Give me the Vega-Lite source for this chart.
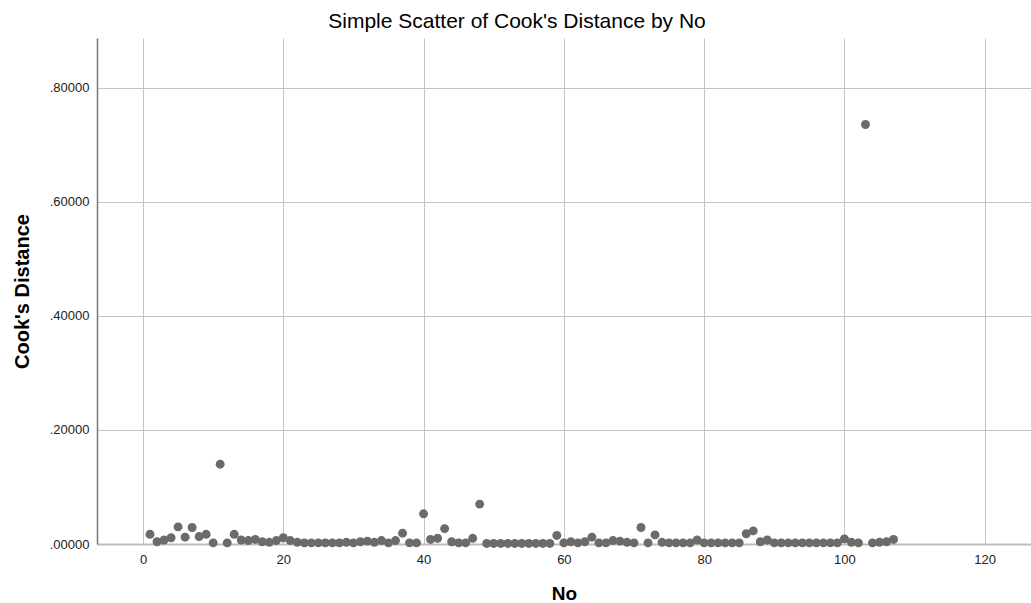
{
  "$schema": "https://vega.github.io/schema/vega-lite/v6.json",
  "autosize": {"type": "none"},
  "padding": {"left": 97, "top": 38, "right": 0, "bottom": 59},
  "width": 934,
  "height": 506,
  "background": "white",
  "title": {
    "text": "Simple Scatter of Cook's Distance by No",
    "font": "Liberation Sans",
    "fontSize": 21,
    "fontWeight": "normal",
    "color": "#000000",
    "anchor": "middle",
    "dx": -47,
    "dy": 21,
    "baseline": "alphabetic",
    "offset": 10
  },
  "config": {
    "view": {"stroke": null},
    "axis": {
      "labelFont": "Liberation Sans",
      "labelFontSize": 13,
      "labelColor": "#222222",
      "titleFont": "Liberation Sans",
      "titleFontSize": 20,
      "titleFontWeight": "bold",
      "titleColor": "#000000",
      "gridColor": "#c4c4c4",
      "gridWidth": 1,
      "gridOpacity": 1,
      "ticks": false,
      "tickSize": 0
    }
  },
  "data": {
    "values": [
      {"No": 1, "CooksDistance": 0.017},
      {"No": 2, "CooksDistance": 0.004},
      {"No": 3, "CooksDistance": 0.007},
      {"No": 4, "CooksDistance": 0.011},
      {"No": 5, "CooksDistance": 0.030},
      {"No": 6, "CooksDistance": 0.012},
      {"No": 7, "CooksDistance": 0.029},
      {"No": 8, "CooksDistance": 0.013},
      {"No": 9, "CooksDistance": 0.017},
      {"No": 10, "CooksDistance": 0.002},
      {"No": 11, "CooksDistance": 0.140},
      {"No": 12, "CooksDistance": 0.002},
      {"No": 13, "CooksDistance": 0.017},
      {"No": 14, "CooksDistance": 0.007},
      {"No": 15, "CooksDistance": 0.006},
      {"No": 16, "CooksDistance": 0.008},
      {"No": 17, "CooksDistance": 0.004},
      {"No": 18, "CooksDistance": 0.003},
      {"No": 19, "CooksDistance": 0.006},
      {"No": 20, "CooksDistance": 0.011},
      {"No": 21, "CooksDistance": 0.006},
      {"No": 22, "CooksDistance": 0.003},
      {"No": 23, "CooksDistance": 0.002},
      {"No": 24, "CooksDistance": 0.002},
      {"No": 25, "CooksDistance": 0.002},
      {"No": 26, "CooksDistance": 0.002},
      {"No": 27, "CooksDistance": 0.002},
      {"No": 28, "CooksDistance": 0.002},
      {"No": 29, "CooksDistance": 0.003},
      {"No": 30, "CooksDistance": 0.002},
      {"No": 31, "CooksDistance": 0.004},
      {"No": 32, "CooksDistance": 0.005},
      {"No": 33, "CooksDistance": 0.003},
      {"No": 34, "CooksDistance": 0.006},
      {"No": 35, "CooksDistance": 0.002},
      {"No": 36, "CooksDistance": 0.006},
      {"No": 37, "CooksDistance": 0.019},
      {"No": 38, "CooksDistance": 0.002},
      {"No": 39, "CooksDistance": 0.002},
      {"No": 40, "CooksDistance": 0.053},
      {"No": 41, "CooksDistance": 0.008},
      {"No": 42, "CooksDistance": 0.010},
      {"No": 43, "CooksDistance": 0.027},
      {"No": 44, "CooksDistance": 0.004},
      {"No": 45, "CooksDistance": 0.002},
      {"No": 46, "CooksDistance": 0.002},
      {"No": 47, "CooksDistance": 0.010},
      {"No": 48, "CooksDistance": 0.070},
      {"No": 49, "CooksDistance": 0.001},
      {"No": 50, "CooksDistance": 0.001},
      {"No": 51, "CooksDistance": 0.001},
      {"No": 52, "CooksDistance": 0.001},
      {"No": 53, "CooksDistance": 0.001},
      {"No": 54, "CooksDistance": 0.001},
      {"No": 55, "CooksDistance": 0.001},
      {"No": 56, "CooksDistance": 0.001},
      {"No": 57, "CooksDistance": 0.001},
      {"No": 58, "CooksDistance": 0.001},
      {"No": 59, "CooksDistance": 0.015},
      {"No": 60, "CooksDistance": 0.002},
      {"No": 61, "CooksDistance": 0.004},
      {"No": 62, "CooksDistance": 0.002},
      {"No": 63, "CooksDistance": 0.004},
      {"No": 64, "CooksDistance": 0.012},
      {"No": 65, "CooksDistance": 0.002},
      {"No": 66, "CooksDistance": 0.002},
      {"No": 67, "CooksDistance": 0.006},
      {"No": 68, "CooksDistance": 0.005},
      {"No": 69, "CooksDistance": 0.003},
      {"No": 70, "CooksDistance": 0.002},
      {"No": 71, "CooksDistance": 0.029},
      {"No": 72, "CooksDistance": 0.002},
      {"No": 73, "CooksDistance": 0.016},
      {"No": 74, "CooksDistance": 0.003},
      {"No": 75, "CooksDistance": 0.002},
      {"No": 76, "CooksDistance": 0.002},
      {"No": 77, "CooksDistance": 0.002},
      {"No": 78, "CooksDistance": 0.002},
      {"No": 79, "CooksDistance": 0.007},
      {"No": 80, "CooksDistance": 0.002},
      {"No": 81, "CooksDistance": 0.002},
      {"No": 82, "CooksDistance": 0.002},
      {"No": 83, "CooksDistance": 0.002},
      {"No": 84, "CooksDistance": 0.002},
      {"No": 85, "CooksDistance": 0.002},
      {"No": 86, "CooksDistance": 0.018},
      {"No": 87, "CooksDistance": 0.023},
      {"No": 88, "CooksDistance": 0.004},
      {"No": 89, "CooksDistance": 0.007},
      {"No": 90, "CooksDistance": 0.002},
      {"No": 91, "CooksDistance": 0.002},
      {"No": 92, "CooksDistance": 0.002},
      {"No": 93, "CooksDistance": 0.002},
      {"No": 94, "CooksDistance": 0.002},
      {"No": 95, "CooksDistance": 0.002},
      {"No": 96, "CooksDistance": 0.002},
      {"No": 97, "CooksDistance": 0.002},
      {"No": 98, "CooksDistance": 0.002},
      {"No": 99, "CooksDistance": 0.002},
      {"No": 100, "CooksDistance": 0.009},
      {"No": 101, "CooksDistance": 0.003},
      {"No": 102, "CooksDistance": 0.002},
      {"No": 103, "CooksDistance": 0.736},
      {"No": 104, "CooksDistance": 0.002},
      {"No": 105, "CooksDistance": 0.003},
      {"No": 106, "CooksDistance": 0.004},
      {"No": 107, "CooksDistance": 0.008}
    ]
  },
  "mark": {"type": "point", "filled": true, "color": "#6b6b6b", "size": 80, "opacity": 1, "strokeWidth": 0},
  "encoding": {
    "x": {
      "field": "No",
      "type": "quantitative",
      "scale": {"domain": [-6.56, 126.6], "nice": false, "zero": false},
      "axis": {
        "title": "No",
        "values": [0, 20, 40, 60, 80, 100, 120],
        "labelPadding": 9,
        "domainColor": "#bdbdbd",
        "domainWidth": 2,
        "titleX": 467,
        "titleY": 55,
        "titleFontSize": 19,
        "titleBaseline": "alphabetic",
        "titleAnchor": "middle"
      }
    },
    "y": {
      "field": "CooksDistance",
      "type": "quantitative",
      "scale": {"domain": [0, 0.8877], "nice": false},
      "axis": {
        "title": "Cook's Distance",
        "values": [0, 0.2, 0.4, 0.6, 0.8],
        "labelExpr": "substring(format(datum.value, '.5f'), 1)",
        "labelPadding": 8,
        "domainColor": "#777777",
        "domainWidth": 1.5,
        "titleX": -69,
        "titleY": 253,
        "titleAngle": 270,
        "titleBaseline": "alphabetic",
        "titleAnchor": "middle",
        "titleAlign": "center"
      }
    }
  }
}
